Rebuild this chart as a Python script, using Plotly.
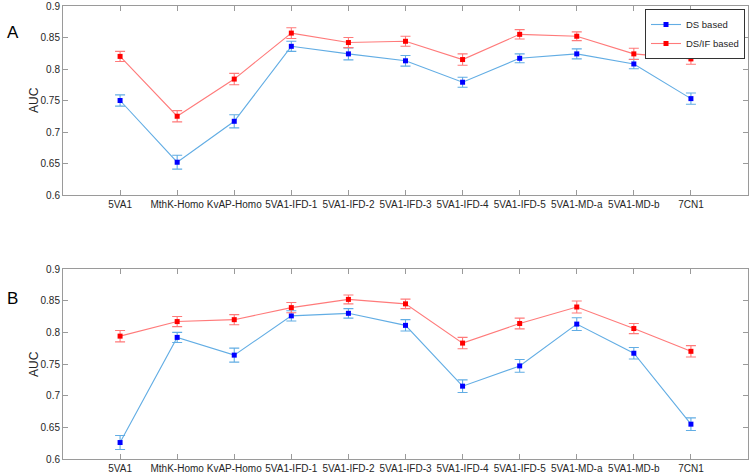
import plotly.graph_objects as go

categories = ["5VA1", "MthK-Homo", "KvAP-Homo", "5VA1-IFD-1", "5VA1-IFD-2", "5VA1-IFD-3",
              "5VA1-IFD-4", "5VA1-IFD-5", "5VA1-MD-a", "5VA1-MD-b", "7CN1"]

a_ds = [0.750, 0.652, 0.717, 0.836, 0.824, 0.813, 0.779, 0.817, 0.824, 0.808, 0.753]
a_ds_err = [0.009, 0.011, 0.0105, 0.008, 0.0095, 0.0085, 0.008, 0.007, 0.008, 0.0075, 0.009]
a_dsif = [0.820, 0.725, 0.784, 0.857, 0.842, 0.844, 0.815, 0.855, 0.852, 0.824, 0.816]
a_dsif_err = [0.008, 0.009, 0.009, 0.0085, 0.008, 0.008, 0.009, 0.0075, 0.007, 0.009, 0.0085]

b_ds = [0.626, 0.792, 0.764, 0.826, 0.830, 0.811, 0.715, 0.747, 0.813, 0.767, 0.655]
b_ds_err = [0.011, 0.008, 0.011, 0.008, 0.0075, 0.009, 0.010, 0.010, 0.010, 0.009, 0.010]
b_dsif = [0.794, 0.817, 0.820, 0.839, 0.852, 0.845, 0.783, 0.814, 0.840, 0.806, 0.770]
b_dsif_err = [0.009, 0.008, 0.008, 0.008, 0.007, 0.0075, 0.009, 0.0085, 0.0095, 0.008, 0.009]

y_ticks = [0.6, 0.65, 0.7, 0.75, 0.8, 0.85, 0.9]
y_ticktext = ["0.6", "0.65", "0.7", "0.75", "0.8", "0.85", "0.9"]

W, H = 750, 476
FONT = "Liberation Sans Narrow, Liberation Sans, Arial, sans-serif"
BLUE_LINE = "#62ade4"
BLUE_MARK = "#0000ff"
RED_LINE = "#ff7a7a"
RED_MARK = "#ff0000"

xpos = list(range(1, len(categories) + 1))

fig = go.Figure()

def add_series(y, err, name, line_c, mark_c, xaxis, yaxis, show):
    fig.add_trace(go.Scatter(
        x=xpos, y=y, name=name, mode="lines+markers",
        line=dict(color=line_c, width=1.1),
        marker=dict(color=mark_c, size=5, symbol="square"),
        error_y=dict(type="data", array=err, visible=True, color=line_c,
                     thickness=1.1, width=5),
        xaxis=xaxis, yaxis=yaxis, showlegend=show))

add_series(a_ds, a_ds_err, "DS based", BLUE_LINE, BLUE_MARK, "x", "y", True)
add_series(a_dsif, a_dsif_err, "DS/IF based", RED_LINE, RED_MARK, "x", "y", True)
add_series(b_ds, b_ds_err, "DS based", BLUE_LINE, BLUE_MARK, "x2", "y2", False)
add_series(b_dsif, b_dsif_err, "DS/IF based", RED_LINE, RED_MARK, "x2", "y2", False)

x_left, x_right = 63 / W, 748 / W
top_dom = [1 - 195 / H, 1 - 6 / H]
bot_dom = [1 - 459 / H, 1 - 269 / H]

axis_common = dict(
    showline=True, mirror="ticks", linecolor="#9a9a9a", linewidth=1,
    ticks="inside", ticklen=5, tickcolor="#9a9a9a", showgrid=False, zeroline=False,
    automargin=False,
    tickfont=dict(family=FONT, size=10, color="#262626"),
)

fig.update_layout(
    template="none",
    width=W, height=H, margin=dict(l=0, r=0, t=0, b=0, autoexpand=False),
    paper_bgcolor="white", plot_bgcolor="white",
    font=dict(family=FONT, size=11, color="#262626"),
    xaxis=dict(domain=[x_left, x_right], anchor="y", range=[0, 12], tickangle=0,
               tickvals=xpos, ticktext=categories, **axis_common),
    yaxis=dict(domain=top_dom, anchor="x", range=[0.6, 0.9],
               tickvals=y_ticks, ticktext=y_ticktext, **axis_common),
    xaxis2=dict(domain=[x_left, x_right], anchor="y2", range=[0, 12], tickangle=0,
                tickvals=xpos, ticktext=categories, **axis_common),
    yaxis2=dict(domain=bot_dom, anchor="x2", range=[0.6, 0.9],
                tickvals=y_ticks, ticktext=y_ticktext, **axis_common),
    legend=dict(x=745 / W, xanchor="right", y=1 - 9 / H, yanchor="top",
                bgcolor="white", bordercolor="#333333", borderwidth=1,
                font=dict(family=FONT, size=9.5, color="#262626"),
                tracegroupgap=0, itemwidth=30),
    annotations=[
        dict(text="A", x=5 / W, y=1 - 33 / H, xref="paper", yref="paper",
             showarrow=False, xanchor="left", yanchor="middle",
             font=dict(family="Liberation Sans, Arial", size=17, color="black")),
        dict(text="B", x=5 / W, y=1 - 298 / H, xref="paper", yref="paper",
             showarrow=False, xanchor="left", yanchor="middle",
             font=dict(family="Liberation Sans, Arial", size=17, color="black")),
        dict(text="AUC", x=34 / W, y=1 - 100 / H, xref="paper", yref="paper",
             showarrow=False, textangle=-90, xanchor="center", yanchor="middle",
             font=dict(family=FONT, size=12, color="#262626")),
        dict(text="AUC", x=34 / W, y=1 - 364 / H, xref="paper", yref="paper",
             showarrow=False, textangle=-90, xanchor="center", yanchor="middle",
             font=dict(family=FONT, size=12, color="#262626")),
    ],
)

fig.write_html("out.html", config={"displayModeBar": False},
               post_script="document.body.style.margin='0px';document.body.style.overflow='hidden';")
